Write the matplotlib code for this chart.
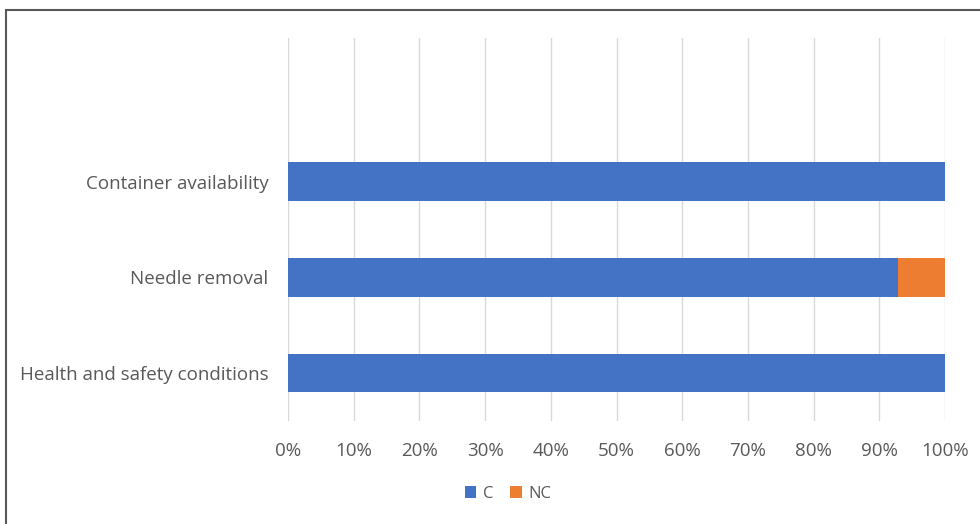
import matplotlib.pyplot as plt
from matplotlib.patches import Rectangle
from matplotlib.ticker import PercentFormatter

categories = ["Health and safety conditions", "Needle removal", "Container availability", ""]
c_values = [100, 92.8, 100, 0]
nc_values = [0, 7.2, 0, 0]
xticks = list(range(0, 101, 10))

blue = "#4472C4"
orange = "#ED7D31"
text_col = "#595959"

plt.rcParams['font.family'] = ['Open Sans', 'DejaVu Sans']

fig = plt.figure(figsize=(9.8, 5.24), dpi=100)
ax = fig.add_axes([288 / 980, 1 - 421 / 524, 657 / 980, 383 / 524])

y = list(range(len(categories)))
ax.barh(y, c_values, height=0.4, color=blue, label="C", zorder=2)
ax.barh(y, nc_values, left=c_values, height=0.4, color=orange, label="NC", zorder=2)

ax.set_xlim(0, 100)
ax.set_ylim(-0.5, 3.5)
ax.set_xticks(xticks)
ax.xaxis.set_major_formatter(PercentFormatter(decimals=0))
ax.set_yticks(y)
ax.set_yticklabels(categories)
ax.grid(axis="x", color="#D9D9D9", linewidth=1, zorder=0)
ax.tick_params(length=0, labelsize=13.5, labelcolor=text_col)
ax.tick_params(axis="x", pad=15)
ax.tick_params(axis="y", pad=14)
for s in ax.spines.values():
    s.set_visible(False)

leg = fig.legend(loc="center", bbox_to_anchor=(508 / 980, 1 - 494 / 524), ncol=2,
                 frameon=False, fontsize=12, handlelength=0.7, handleheight=0.7,
                 handletextpad=0.4, columnspacing=1.0)
for t in leg.get_texts():
    t.set_color(text_col)

# outer frame of the chart
fig.patches.append(Rectangle((6 / 980, -0.1), 1.2, 1 - 10 / 524 + 0.1,
                             transform=fig.transFigure, fill=False,
                             edgecolor="#595959", linewidth=1.5))

fig.savefig("out.png", dpi=100)
